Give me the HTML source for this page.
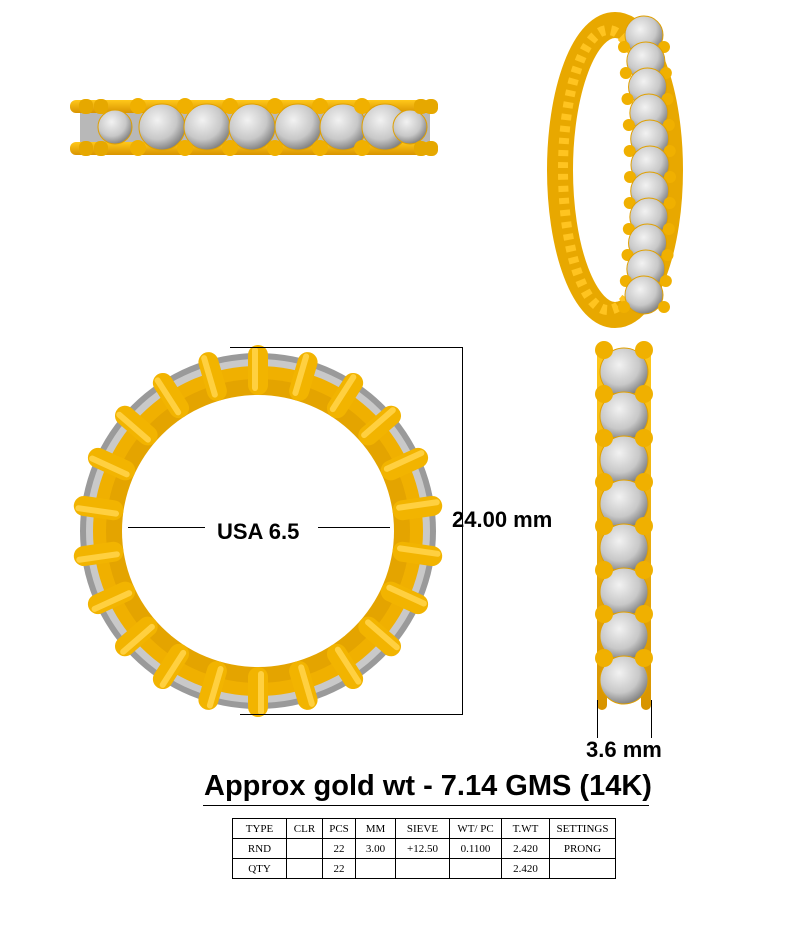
<!DOCTYPE html>
<html><head><style>
body{margin:0;background:#fff;width:798px;height:928px;overflow:hidden;font-family:"Liberation Sans",Arial,sans-serif}
svg{position:absolute;left:0;top:0}
.t{position:absolute;font-weight:bold;color:#000}
table{position:absolute;left:232px;top:818px;border-collapse:collapse;font-family:"Liberation Serif",serif;font-size:11px}
td{border:1px solid #000;height:19px;padding:0;text-align:center}
</style></head><body>
<svg id="s" width="798" height="928" xmlns="http://www.w3.org/2000/svg">
<defs>
<radialGradient id="st" cx="40%" cy="35%" r="70%"><stop offset="0" stop-color="#f2f2f2"/><stop offset="0.6" stop-color="#c8c8c8"/><stop offset="1" stop-color="#777"/></radialGradient>
<linearGradient id="gd" x1="0" y1="0" x2="0" y2="1"><stop offset="0" stop-color="#ffc81a"/><stop offset="1" stop-color="#d89400"/></linearGradient>
</defs>
<g id="g"></g>
<!-- dimension lines -->
<g stroke="#000" stroke-width="1" fill="none">
<path d="M230 347.5H462.5V714.5H240"/>
<path d="M128 527.5H205M318 527.5H390"/>
<path d="M597.5 700V738M651.5 700V738"/>
</g>
</svg>
<div class="t" style="left:217px;top:519px;font-size:22px">USA 6.5</div>
<div class="t" style="left:452px;top:507px;font-size:22px">24.00 mm</div>
<div class="t" style="left:586px;top:737px;font-size:22px">3.6 mm</div>
<div class="t" style="left:204px;top:770px;font-size:29px">Approx gold wt - 7.14 GMS (14K)</div>
<div style="position:absolute;left:203px;top:805px;width:446px;height:1px;background:#000"></div>
<table>
<tr><td style="width:53px">TYPE</td><td style="width:35px">CLR</td><td style="width:32px">PCS</td><td style="width:39px">MM</td><td style="width:53px">SIEVE</td><td style="width:51px">WT/ PC</td><td style="width:47px">T.WT</td><td style="width:65px">SETTINGS</td></tr>
<tr><td>RND</td><td></td><td>22</td><td>3.00</td><td>+12.50</td><td>0.1100</td><td>2.420</td><td>PRONG</td></tr>
<tr><td>QTY</td><td></td><td>22</td><td></td><td></td><td></td><td>2.420</td><td></td></tr>
</table>
<script>
var g=document.getElementById('g'),h='';
function c(x,y,r,f,s){h+='<circle cx="'+x+'" cy="'+y+'" r="'+r+'" fill="'+f+'"'+(s?' stroke="'+s+'"':'')+'/>';}
function rr(x,y,w,ht,rx,f,tr){h+='<rect x="'+x+'" y="'+y+'" width="'+w+'" height="'+ht+'" rx="'+rx+'" fill="'+f+'"'+(tr?' transform="'+tr+'"':'')+'/>';}
// top band
rr(80,112,350,31,0,'#b8b8b8');
rr(70,100,368,13,6,'url(#gd)');rr(70,142,368,13,6,'url(#gd)');
[115,162,207,252,298,343,385,410].forEach(function(x,i){c(x,127,i==0||i==7?17:23,'url(#st)','#e0a000');});
[138,185,230,275,320,362].forEach(function(x){c(x,106,8,'#f0b000');c(x,148,8,'#f0b000');});
[85,100,420,430].forEach(function(x){rr(x-6,99,14,15,6,'#e6a800');rr(x-6,141,14,15,6,'#e6a800');});
// circle view
c(258,531,178,'#9a9a9a');c(258,531,172,'#c9c9c9');
c(258,531,165,'#f0b000');c(258,531,152,'#e4a400');c(258,531,136,'#fff');
for(var i=0;i<22;i++){var a=i*360/22;rr(248,345,20,50,10,'#f2b400','rotate('+a+' 258 531)');rr(252,347,6,44,3,'#ffd040','rotate('+a+' 258 531)');}
// side view
rr(597,350,10,360,5,'url(#gd)');rr(641,350,10,360,5,'url(#gd)');
for(var y=372;y<=690;y+=44){c(624,y,24,'url(#st)','#e0a000');}
for(var y=350;y<=700;y+=44){c(604,y,9,'#f0b000');c(644,y,9,'#f0b000');}
// perspective ring
h+='<ellipse cx="615" cy="170" rx="55" ry="145" fill="none" stroke="#e8a800" stroke-width="26"/>';
h+='<ellipse cx="608" cy="170" rx="45" ry="140" fill="none" stroke="#ffc420" stroke-width="10" stroke-dasharray="6 6"/>';
for(var k=0;k<11;k++){var yy=35+k*26;var xx=652+Math.sin((k/10)*Math.PI)*6-8;c(xx,yy,19,'url(#st)','#e0a000');c(xx-20,yy+12,6,'#f0b000');c(xx+20,yy+12,6,'#f0b000');}
g.innerHTML=h;
</script>
</body></html>
